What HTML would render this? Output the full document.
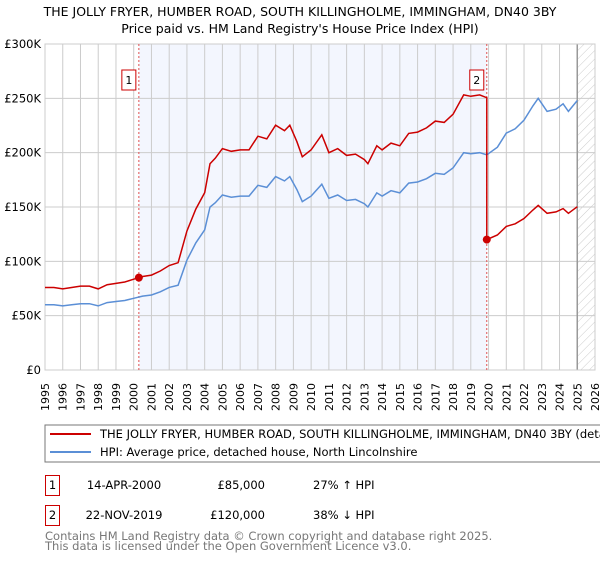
<!DOCTYPE html>
<html><head><meta charset="utf-8"><style>
body{margin:0;background:#fff;width:600px;height:560px;overflow:hidden;font-family:"Liberation Sans","DejaVu Sans",sans-serif;}
svg text{font-family:"DejaVu Sans","Liberation Sans",sans-serif;}
</style></head><body>
<svg id="c" width="600" height="560" xmlns="http://www.w3.org/2000/svg">
<defs><pattern id="hatch" width="6" height="6" patternUnits="userSpaceOnUse" patternTransform="rotate(45)"><line x1="0" y1="0" x2="0" y2="6" stroke="#ccc" stroke-width="1"/></pattern></defs>
<text x="300" y="16" text-anchor="middle" font-size="12.5">THE JOLLY FRYER, HUMBER ROAD, SOUTH KILLINGHOLME, IMMINGHAM, DN40 3BY</text>
<text x="300" y="33" text-anchor="middle" font-size="12.5">Price paid vs. HM Land Registry's House Price Index (HPI)</text>
<g id="plot"></g>
<rect x="45" y="425" width="560" height="37" fill="#fff" stroke="#777"/>
<line x1="50" y1="434" x2="91" y2="434" stroke="#cc0000" stroke-width="2"/>
<text x="100" y="438" font-size="11.5">THE JOLLY FRYER, HUMBER ROAD, SOUTH KILLINGHOLME, IMMINGHAM, DN40 3BY (detached house)</text>
<line x1="50" y1="452" x2="91" y2="452" stroke="#5b8fd6" stroke-width="2"/>
<text x="100" y="456" font-size="11.5">HPI: Average price, detached house, North Lincolnshire</text>
<g>
<rect x="45.5" y="475.5" width="14" height="20" fill="#fff" stroke="#cc0000"/><text x="52.5" y="489" text-anchor="middle" font-size="11.5">1</text>
<text x="124" y="489" text-anchor="middle" font-size="11.5">14-APR-2000</text>
<text x="265" y="489" text-anchor="end" font-size="11.5">£85,000</text>
<text x="313" y="489" font-size="11.5">27% ↑ HPI</text></g>
<g>
<rect x="45.5" y="505.5" width="14" height="20" fill="#fff" stroke="#cc0000"/><text x="52.5" y="519" text-anchor="middle" font-size="11.5">2</text>
<text x="124" y="519" text-anchor="middle" font-size="11.5">22-NOV-2019</text>
<text x="265" y="519" text-anchor="end" font-size="11.5">£120,000</text>
<text x="313" y="519" font-size="11.5">38% ↓ HPI</text></g>
<text x="45" y="540" font-size="11.5" fill="#777">Contains HM Land Registry data © Crown copyright and database right 2025.</text>
<text x="45" y="550" font-size="11.5" fill="#777">This data is licensed under the Open Government Licence v3.0.</text>
</svg>
<script>
const hpiYears=[1995,1995.5,1996,1996.5,1997,1997.5,1998,1998.5,1999,1999.5,2000,2000.5,2001,2001.5,2002,2002.5,2003,2003.5,2004,2004.3,2004.6,2005,2005.5,2006,2006.5,2007,2007.5,2008,2008.5,2008.8,2009.2,2009.5,2010,2010.6,2011,2011.5,2012,2012.5,2013,2013.2,2013.7,2014,2014.5,2015,2015.5,2016,2016.5,2017,2017.5,2018,2018.6,2019,2019.5,2019.9,2020.5,2021,2021.5,2022,2022.5,2022.8,2023.3,2023.8,2024.2,2024.5,2025];
const hpiValues=[60,60,59,60,61,61,59,62,63,64,66,68,69,72,76,78,101,117,129,150,154,161,159,160,160,170,168,178,174,178,166,155,160,171,158,161,156,157,153,150,163,160,165,163,172,173,176,181,180,186,200,199,200,198,205,218,222,230,243,250,238,240,245,238,248];
const saleYears=[2000.29,2019.9];
const salePrices=[85000,120000];
const saleLabels=["1","2"];
const yTicks=[0,50000,100000,150000,200000,250000,300000];
const yTickLabels=["£0","£50K","£100K","£150K","£200K","£250K","£300K"];
const xTicks=[1995,1996,1997,1998,1999,2000,2001,2002,2003,2004,2005,2006,2007,2008,2009,2010,2011,2012,2013,2014,2015,2016,2017,2018,2019,2020,2021,2022,2023,2024,2025,2026];

const X0=45,X1=595,Y0=370,Y1=44;
const x=v=>X0+(v-1995)/(2026-1995)*(X1-X0);
const y=v=>Y0-v/300000*(Y0-Y1);
const NS="http://www.w3.org/2000/svg";
const g=document.getElementById('plot');
function mk(t,a){const e=document.createElementNS(NS,t);for(const k in a)e.setAttribute(k,a[k]);g.appendChild(e);return e;}
function hpiAt(t){for(let i=1;i<hpiYears.length;i++){if(t<=hpiYears[i]){const f=(t-hpiYears[i-1])/(hpiYears[i]-hpiYears[i-1]);return (hpiValues[i-1]+f*(hpiValues[i]-hpiValues[i-1]))*1000;}}return hpiValues[hpiValues.length-1]*1000;}

let e=mk('rect',{x:x(saleYears[0]),y:Y1,width:x(saleYears[1])-x(saleYears[0]),height:Y0-Y1,fill:'#f3f6fe'});


e=mk('rect',{x:x(2025),y:Y1,width:X1-x(2025),height:Y0-Y1,fill:'url(#hatch)'});


xTicks.forEach(t=>{const l=mk('line',{x1:x(t),x2:x(t),y1:Y1,y2:Y0,stroke:'#ccc','stroke-width':1});


const tx=mk('text',{x:0,y:0,'font-size':11,'text-anchor':'end',transform:`translate(${x(t)+4},${Y0+13}) rotate(-90)`});tx.textContent=t;

});
yTicks.forEach((t,i)=>{const l=mk('line',{x1:X0,x2:X1,y1:y(t),y2:y(t),stroke:'#ccc','stroke-width':1});


const tx=mk('text',{x:41,y:y(t)+4,'font-size':11.5,'text-anchor':'end'});tx.textContent=yTickLabels[i];

});
e=mk('line',{x1:x(2025),x2:x(2025),y1:Y1,y2:Y0,stroke:'#999','stroke-width':1.5});


e=mk('rect',{x:X0,y:Y1,width:X1-X0,height:Y0-Y1,fill:'none',stroke:'#ccc'});


saleYears.forEach((s,i)=>{const l=mk('line',{x1:x(s),x2:x(s),y1:Y1,y2:Y0,stroke:'#e05050','stroke-width':1,'stroke-dasharray':'2,2'});

});
let d=hpiYears.map((t,i)=>(i?'L':'M')+x(t).toFixed(1)+','+y(hpiValues[i]*1000).toFixed(1)).join(' ');
e=mk('path',{d:d,fill:'none',stroke:'#5b8fd6','stroke-width':1.5});


const r0=salePrices[0]/hpiAt(saleYears[0]),r1=salePrices[1]/hpiAt(saleYears[1]);
let pts=[];
hpiYears.forEach((t,i)=>{if(t<saleYears[1])pts.push([t,hpiValues[i]*1000*r0]);});
pts.push([saleYears[1],hpiAt(saleYears[1])*r0]);
pts.push([saleYears[1],salePrices[1]]);
hpiYears.forEach((t,i)=>{if(t>saleYears[1])pts.push([t,hpiValues[i]*1000*r1]);});
d=pts.map((p,i)=>(i?'L':'M')+x(p[0]).toFixed(1)+','+y(p[1]).toFixed(1)).join(' ');
e=mk('path',{d:d,fill:'none',stroke:'#cc0000','stroke-width':1.5});


saleYears.forEach((s,i)=>{const c=mk('circle',{cx:x(s),cy:y(salePrices[i]),r:4,fill:'#cc0000'});


const b=mk('rect',{x:x(s)-17,y:70,width:14,height:20,fill:'#fff',stroke:'#cc0000'});


const t=mk('text',{x:x(s)-10,y:84,'font-size':11,'text-anchor':'middle'});t.textContent=saleLabels[i];

});
</script>
</body></html>
